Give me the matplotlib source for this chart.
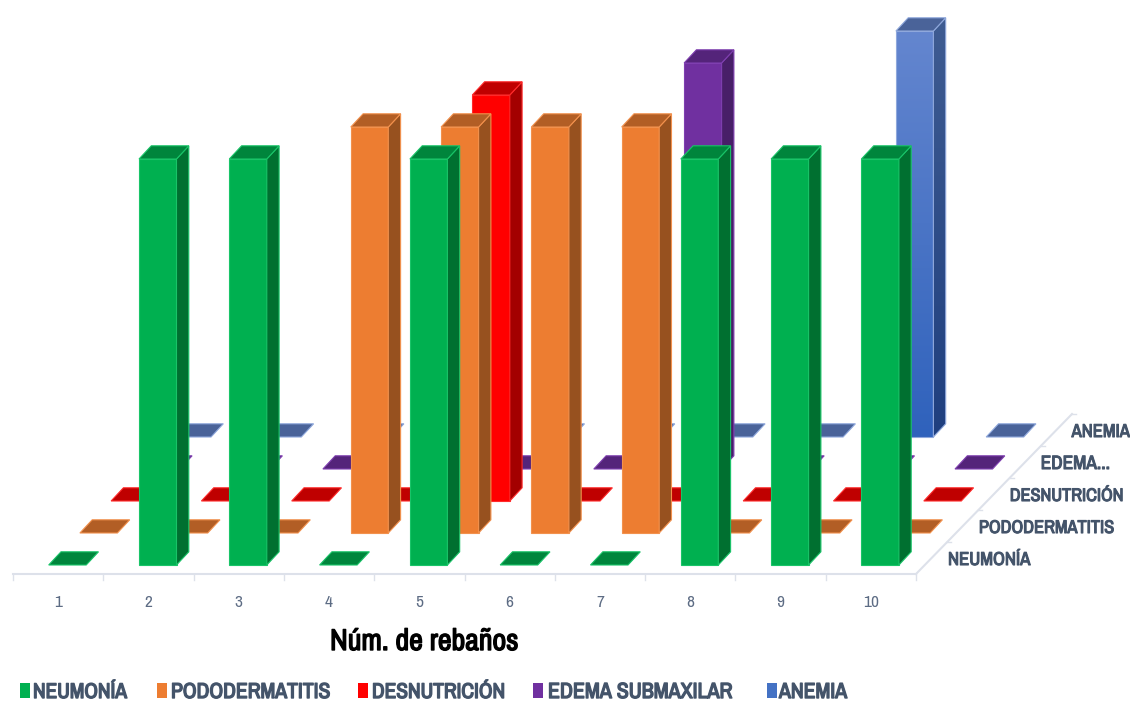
import numpy as np
import matplotlib
matplotlib.use("Agg")
import matplotlib.pyplot as plt
import matplotlib.patheffects as pe
from matplotlib.patches import Polygon

# Cases per herd for each disease
categories = ["1", "2", "3", "4", "5", "6", "7", "8", "9", "10"]
neumonia = [0, 1, 1, 0, 1, 0, 0, 1, 1, 1]
pododermatitis = [0, 0, 0, 1, 1, 1, 1, 0, 0, 0]
desnutricion = [0, 0, 0, 0, 1, 0, 0, 0, 0, 0]
edema = [0, 0, 0, 0, 0, 0, 1, 0, 0, 0]
anemia = [0, 0, 0, 0, 0, 0, 0, 0, 1, 0]

series_names = ["NEUMONÍA", "PODODERMATITIS", "DESNUTRICIÓN", "EDEMA SUBMAXILAR", "ANEMIA"]
depth_labels = ["NEUMONÍA", "PODODERMATITIS", "DESNUTRICIÓN", "EDEMA...", "ANEMIA"]
series_values = [neumonia, pododermatitis, desnutricion, edema, anemia]

# front, top and side shades
front_cols = ["#00B050", "#ED7D31", "#FF0000", "#7030A0", "#4472C4"]
top_cols = ["#00853C", "#B25E25", "#BF0000", "#54247A", "#4A6399"]
side_cols = ["#007030", "#97511F", "#A30000", "#481F68", "#34508A"]
edge_cols = ["#19C468", "#F2914D", "#FF2A2A", "#7F3FB0", "#8FA8DC"]

# oblique projection, in pixels
X0, Y0 = 48.7, 565.0
CAT_STEP = 90.3
ROW_DX, ROW_DY = 31.2, 32.0
BAR_W = 37.5
BAR_DX, BAR_DY = 12.3, 13.2
VAL_PX = 406.0

TEXT_COL = "#44546A"
AXIS_COL = "#DDE1EA"
narrow = ["Archivo Narrow", "Asap Condensed", "Liberation Sans"]


def corner(cat, row):
    return X0 + cat * CAT_STEP + row * ROW_DX, Y0 - row * ROW_DY


def add_face(ax, pts, color, edge, z):
    ax.add_patch(Polygon(pts, closed=True, facecolor=color, edgecolor=edge, linewidth=0.8, zorder=z))


def gradient_face(ax, pts, top, bottom, edge, z):
    # vertical colour ramp clipped to the face
    poly = Polygon(pts, closed=True, facecolor="none", edgecolor=edge, linewidth=0.8, zorder=z + 0.1)
    ax.add_patch(poly)
    ramp = np.linspace(0, 1, 256)[:, None, None]
    c1 = np.array(matplotlib.colors.to_rgb(top))
    c2 = np.array(matplotlib.colors.to_rgb(bottom))
    img = c1 + (c2 - c1) * ramp
    xs = [p[0] for p in pts]
    ys = [p[1] for p in pts]
    im = ax.imshow(img, extent=[min(xs), max(xs), max(ys), min(ys)], aspect="auto", zorder=z)
    im.set_clip_path(poly)


def fit_text(ax, x, y, s, width, stroke, **kw):
    # scale the font so the string spans the wanted width, stroke thickens the narrow face
    t = ax.text(x, y, s, ha="left", va="baseline", **kw)
    w = t.get_window_extent(fig.canvas.get_renderer()).width
    t.set_fontsize(t.get_fontsize() * width / w)
    t.set_path_effects([pe.withStroke(linewidth=stroke, foreground=kw["color"])])
    return t


fig = plt.figure(figsize=(11.3, 7.01), dpi=100)
ax = fig.add_axes([0, 0, 1, 1])
ax.set_xlim(0, 1130)
ax.set_ylim(701, 0)

# bars, back row first
z = 10
for row in range(len(series_values) - 1, -1, -1):
    for cat, val in enumerate(series_values[row]):
        x, y = corner(cat, row)
        h = val * VAL_PX
        front = [(x, y), (x + BAR_W, y), (x + BAR_W, y - h), (x, y - h)]
        side = [(x + BAR_W, y), (x + BAR_W + BAR_DX, y - BAR_DY),
                (x + BAR_W + BAR_DX, y - BAR_DY - h), (x + BAR_W, y - h)]
        top = [(x, y - h), (x + BAR_W, y - h),
               (x + BAR_W + BAR_DX, y - BAR_DY - h), (x + BAR_DX, y - BAR_DY - h)]
        if val > 0:
            if row == 4:
                gradient_face(ax, front, "#6486CF", "#2F62BC", edge_cols[row], z)
                gradient_face(ax, side, "#3F5C92", "#1F3F7F", edge_cols[row], z + 0.2)
            else:
                add_face(ax, front, front_cols[row], edge_cols[row], z)
                add_face(ax, side, side_cols[row], edge_cols[row], z + 0.2)
        add_face(ax, top, top_cols[row], edge_cols[row], z + 0.4)
    z += 1

# category axis
ax_left, ax_right = X0 - 35.7, X0 - 35.7 + 10 * CAT_STEP
axis_y = 574
ax.plot([ax_left, ax_right], [axis_y, axis_y], color=AXIS_COL, lw=1.5, zorder=1)
for i in range(11):
    tx = ax_left + i * CAT_STEP
    ax.plot([tx, tx], [axis_y, axis_y + 6], color=AXIS_COL, lw=1.0, zorder=1)
for i, lab in enumerate(categories):
    ax.text(ax_left + (i + 0.5) * CAT_STEP, 607, lab, ha="center", va="baseline",
            fontsize=12.5, color="#5D6C84", family=narrow)

# depth axis
ax.plot([ax_right, ax_right + 5 * ROW_DX], [axis_y, axis_y - 5 * ROW_DY], color=AXIS_COL, lw=1.5, zorder=1)
ax.plot([ax_right + 5 * ROW_DX, ax_right + 5 * ROW_DX + 4], [axis_y - 5 * ROW_DY, axis_y - 5 * ROW_DY],
        color=AXIS_COL, lw=1.0, zorder=1)
for i in range(1, 5):
    px = ax_right + i * ROW_DX
    py = axis_y - i * ROW_DY
    ax.plot([px, px + 4], [py, py], color=AXIS_COL, lw=1.0, zorder=1)
depth_widths = [82, 135, 113, 69, 58]
for row, lab in enumerate(depth_labels):
    fit_text(ax, 948 + row * 30.9, Y0 - row * ROW_DY, lab, depth_widths[row], 0.8,
             fontsize=16, fontweight="bold", color=TEXT_COL, family=narrow)

# axis title
fit_text(ax, 330, 650, "Núm. de rebaños", 189, 1.0, fontsize=22, fontweight="bold", color="black", family=narrow)

# legend
legend_box = [20, 157, 358, 533, 767]
legend_txt = [33, 171, 372, 548, 779]
legend_widths = [94, 159, 133, 184, 68]
for i, name in enumerate(series_names):
    ax.add_patch(Polygon([(legend_box[i], 683), (legend_box[i] + 10, 683),
                          (legend_box[i] + 10, 698), (legend_box[i], 698)],
                         closed=True, facecolor=front_cols[i], edgecolor="none"))
    fit_text(ax, legend_txt[i], 698, name, legend_widths[i], 1.0, fontsize=18,
             fontweight="bold", color=TEXT_COL, family=narrow)

ax.axis("off")
fig.savefig("out.png", dpi=100, facecolor="white")
